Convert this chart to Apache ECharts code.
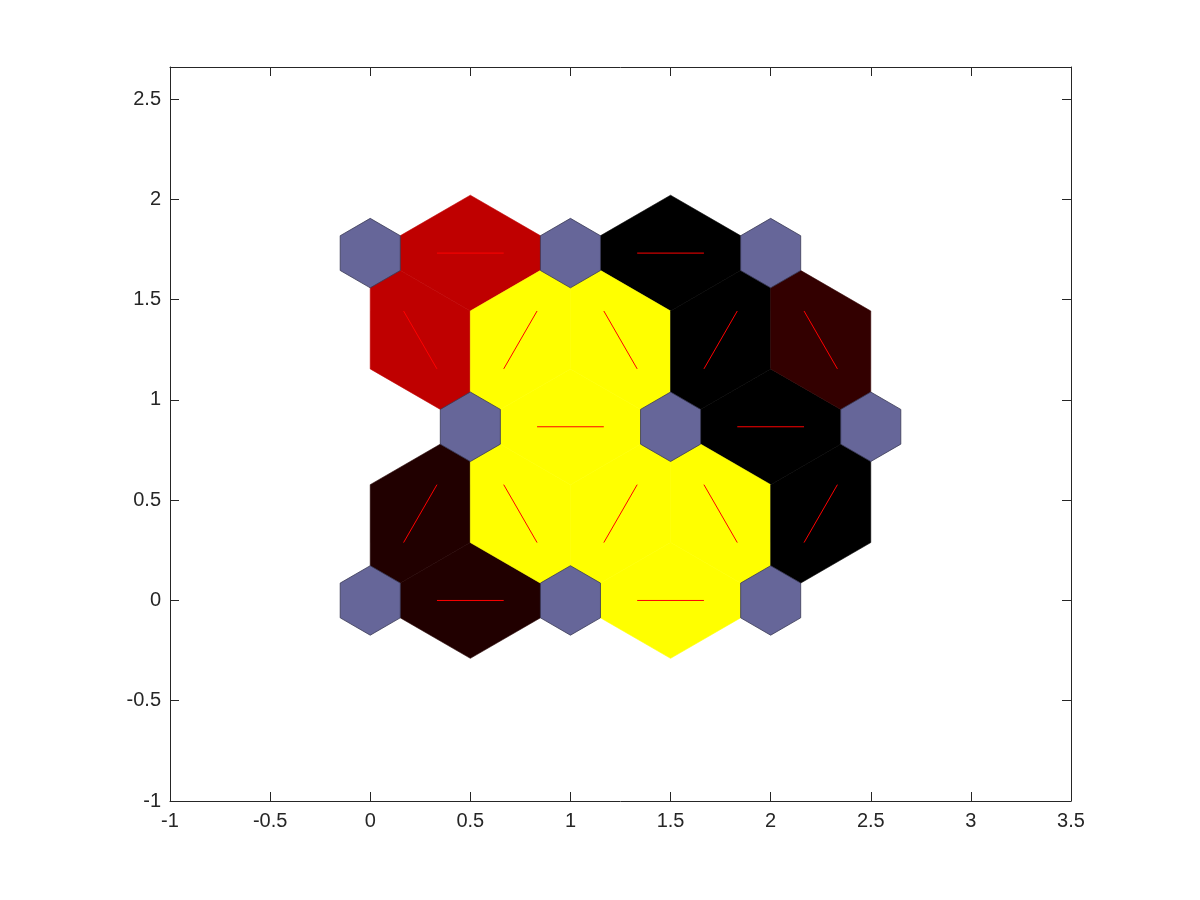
<!DOCTYPE html>
<html>
<head>
<meta charset="utf-8">
<script src="https://cdn.jsdelivr.net/npm/echarts@6/dist/echarts.min.js"></script>
<style>html,body{margin:0;padding:0;background:#fff;}#c{width:1200px;height:900px;}</style>
</head>
<body>
<div id="c"></div>
<script>
// Neuron positions (3x3 hexagonal SOM)
const neuronX = [0, 1, 2, 0.5, 1.5, 2.5, 0, 1, 2];
const neuronY = [0, 0, 0, 0.866, 0.866, 0.866, 1.732, 1.732, 1.732];
// Neighbor edges (neuron indices) and closeness level (1 = close/yellow, 0 = far/black)
const edgeFrom  = [0, 1, 3, 4, 6, 7, 0, 1, 1, 2, 2, 3, 3, 4, 4, 5];
const edgeTo    = [1, 2, 4, 5, 7, 8, 3, 3, 4, 4, 5, 6, 7, 7, 8, 8];
const edgeLevel = [0.065, 1, 1, 0, 0.375, 0, 0.065, 1, 1, 1, 0, 0.375, 1, 1, 0, 0.1];
// Axis ticks
const xTicks = [-1, -0.5, 0, 0.5, 1, 1.5, 2, 2.5, 3, 3.5];
const yTicks = [-1, -0.5, 0, 0.5, 1, 1.5, 2, 2.5];

const H = Math.sqrt(0.75) / 3;
const NEURON_SCALE = 0.3;
const hexDX = [-1, 0, 1, 1, 0, -1].map(v => v * 0.5 * NEURON_SCALE);
const hexDY = [1, 2, 1, -1, -2, -1].map(v => v * H * NEURON_SCALE);

function levelColor(L) {
  const r = Math.min(L * 2, 1), g = Math.max(L * 2 - 1, 0);
  return 'rgb(' + Math.round(r * 255) + ',' + Math.round(g * 255) + ',0)';
}

const edgeData = edgeFrom.map((f, k) => [neuronX[f], neuronY[f], neuronX[edgeTo[k]], neuronY[edgeTo[k]], edgeLevel[k]]);
const neuronData = neuronX.map((x, i) => [x, neuronY[i]]);

const fontFam = 'Liberation Sans, Arial, Helvetica, sans-serif';
const axisColor = '#262626';
const isTick = (v, arr) => arr.some(t => Math.abs(t - v) < 1e-6);

const chart = echarts.init(document.getElementById('c'), null, {renderer: 'canvas'});
const commonLine = {show: true, onZero: false, lineStyle: {color: axisColor, width: 1}};
chart.setOption({
  animation: false,
  backgroundColor: '#fff',
  grid: {left: 170, right: 129, top: 67, bottom: 99, containLabel: false},
  xAxis: [{
    type: 'value', min: -1, max: 3.5, interval: 0.5, position: 'bottom',
    axisLine: commonLine,
    axisTick: {show: true, inside: true, length: 9, lineStyle: {color: axisColor}},
    axisLabel: {show: true, color: axisColor, fontSize: 20, fontFamily: fontFam, margin: 10,
      formatter: v => isTick(v, xTicks) ? String(v) : ''},
    splitLine: {show: false}
  }, {
    type: 'value', min: -1, max: 3.5, interval: 0.5, position: 'top',
    axisLine: commonLine,
    axisTick: {show: true, inside: true, length: 9, lineStyle: {color: axisColor}},
    axisLabel: {show: false}, splitLine: {show: false}
  }],
  yAxis: [{
    type: 'value', min: -1, max: 2.66, interval: 0.5, position: 'left',
    axisLine: commonLine,
    axisTick: {show: true, inside: true, length: 9, lineStyle: {color: axisColor}},
    axisLabel: {show: true, color: axisColor, fontSize: 20, fontFamily: fontFam, margin: 9,
      formatter: v => isTick(v, yTicks) ? String(v) : ''},
    splitLine: {show: false}
  }, {
    type: 'value', min: -1, max: 2.66, interval: 0.5, position: 'right',
    axisLine: commonLine,
    axisTick: {show: true, inside: true, length: 9, lineStyle: {color: axisColor}},
    axisLabel: {show: false}, splitLine: {show: false}
  }],
  series: [{
    type: 'custom', name: 'edges', xAxisIndex: 0, yAxisIndex: 0,
    data: edgeData, encode: {x: [0, 2], y: [1, 3]},
    renderItem: function (params, api) {
      const x1 = api.value(0), y1 = api.value(1), x2 = api.value(2), y2 = api.value(3), L = api.value(4);
      const dx = x2 - x1, dy = y2 - y1, len = Math.sqrt(dx * dx + dy * dy);
      const nx = -dy / len * H, ny = dx / len * H;
      const mx = (x1 + x2) / 2, my = (y1 + y2) / 2;
      const pts = [[x1, y1], [mx + nx, my + ny], [x2, y2], [mx - nx, my - ny]].map(p => api.coord(p));
      const a = api.coord([(2 * x1 + x2) / 3, (2 * y1 + y2) / 3]);
      const b = api.coord([(x1 + 2 * x2) / 3, (y1 + 2 * y2) / 3]);
      const col = levelColor(L);
      return {type: 'group', children: [
        {type: 'polygon', shape: {points: pts}, style: {fill: col, stroke: col, lineWidth: 0.6}},
        {type: 'line', shape: {x1: a[0], y1: a[1], x2: b[0], y2: b[1]}, style: {stroke: '#ff0000', lineWidth: 1}, z2: 5}
      ]};
    }
  }, {
    type: 'custom', name: 'neurons', xAxisIndex: 0, yAxisIndex: 0, z: 3,
    data: neuronData, encode: {x: 0, y: 1},
    renderItem: function (params, api) {
      const x = api.value(0), y = api.value(1);
      const pts = hexDX.map((d, i) => api.coord([x + d, y + hexDY[i]]));
      return {type: 'polygon', shape: {points: pts}, style: {fill: '#666699', stroke: '#3a3a55', lineWidth: 0.8}};
    }
  }]
});
</script>
</body>
</html>
